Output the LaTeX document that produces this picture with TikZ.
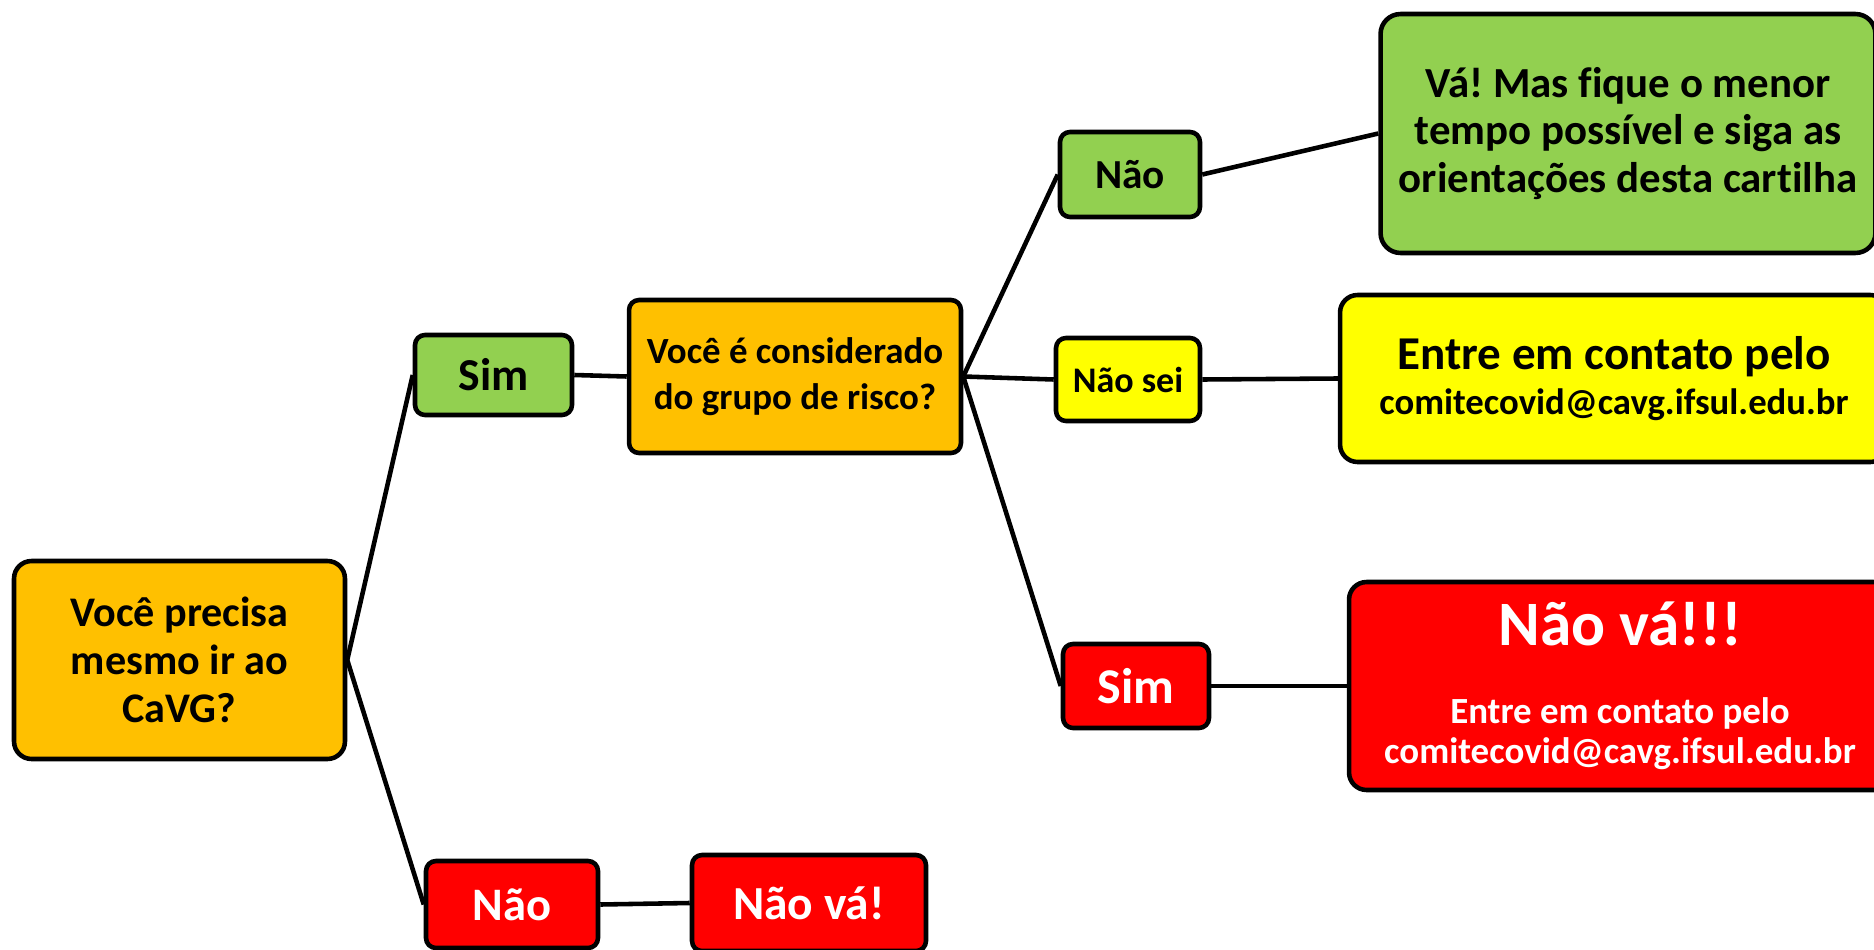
\documentclass[tikz,border=0pt]{standalone}
\usepackage{fontspec}
\setmainfont{Carlito}[Ligatures=NoCommon]
\frenchspacing

\definecolor{laranja}{HTML}{FFC000}
\definecolor{verde}{HTML}{92D050}
\definecolor{amarelo}{HTML}{FFFF00}
\definecolor{vermelho}{HTML}{FF0000}

\begin{document}
\begin{tikzpicture}[x=0.02cm,y=-0.02cm,
    caixa/.style={rectangle,draw=black,line width=2.6pt,rounded corners=0.2cm,align=center,inner sep=0pt}]
\useasboundingbox (0,0) rectangle (1874,950);

					\begin{scope}[every node/.style={caixa}]
						% perguntas
						\node[fill=laranja,minimum width=6.62cm,minimum height=3.96cm,rounded corners=0.35cm,
							font=\bfseries\fontsize{24}{27.3}\selectfont] (Q1) at (179.5,660) {Você precisa\\mesmo ir ao\\CaVG?};
						\node[fill=laranja,minimum width=6.64cm,minimum height=3.06cm,
							font=\bfseries\fontsize{21}{26}\selectfont] (Q2) at (795,376.5) {Você é considerado\\do grupo de risco?};
						% respostas
						\node[fill=verde,minimum width=3.14cm,minimum height=1.6cm,
							font=\bfseries\fontsize{26}{30}\selectfont] (S1) at (493.5,375) {Sim};
						\node[fill=vermelho,text=white,minimum width=3.44cm,minimum height=1.74cm,
							font=\bfseries\fontsize{26.5}{30}\selectfont] (N1) at (512,904.5) {Não};
						\node[fill=verde,minimum width=2.8cm,minimum height=1.7cm,
							font=\bfseries\fontsize{23.5}{28}\selectfont] (N2) at (1130,174.5) {Não};
						\node[fill=amarelo,minimum width=2.88cm,minimum height=1.66cm,
							font=\bfseries\fontsize{20.5}{24}\selectfont] (NS) at (1128,379.5) {Não sei};
						\node[fill=vermelho,text=white,minimum width=2.92cm,minimum height=1.68cm,
							font=\bfseries\fontsize{28.5}{32}\selectfont] (S2) at (1136,686) {Sim};
						% resultados
						\node[fill=vermelho,text=white,minimum width=4.68cm,minimum height=1.92cm,
							font=\bfseries\fontsize{27}{31}\selectfont] (NV) at (809,903) {Não vá!};
						\node[fill=verde,minimum width=9.9cm,minimum height=4.78cm,rounded corners=0.4cm,
							font=\bfseries\fontsize{24.4}{27}\selectfont] (VA) at (1628,133.5) {Vá! Mas fique o menor\\tempo possível e siga as\\orientações desta cartilha};
						\node[fill=amarelo,minimum width=10.96cm,minimum height=3.34cm,rounded corners=0.35cm,
							font=\bfseries\fontsize{20.9}{25.6}\selectfont] (CT) at (1614,378.5) {{\fontsize{26.8}{30}\selectfont Entre em contato pelo}\\comitecovid@cavg.ifsul.edu.br};
						\node[fill=vermelho,text=white,minimum width=10.84cm,minimum height=4.16cm,rounded corners=0.35cm,
							font=\bfseries\fontsize{21}{23.2}\selectfont] (NVV) at (1620,686) {{\fontsize{36}{40}\selectfont Não vá!!!}\\[21pt]Entre em contato pelo\\comitecovid@cavg.ifsul.edu.br};
					\end{scope}
					
					\begin{scope}[every edge/.style={draw=black,line width=2.6pt}]
						\path (Q1.east) edge (S1.west)
						      (Q1.east) edge (N1.west)
						      (S1.east) edge (Q2.west)
						      (Q2.east) edge (N2.west)
						      (Q2.east) edge (NS.west)
						      (Q2.east) edge (S2.west)
						      (N2.east) edge (VA.west)
						      (NS.east) edge (CT.west)
						      (S2.east) edge (NVV.west)
						      (N1.east) edge (NV.west);
					\end{scope}
				\end{tikzpicture}
\end{document}
